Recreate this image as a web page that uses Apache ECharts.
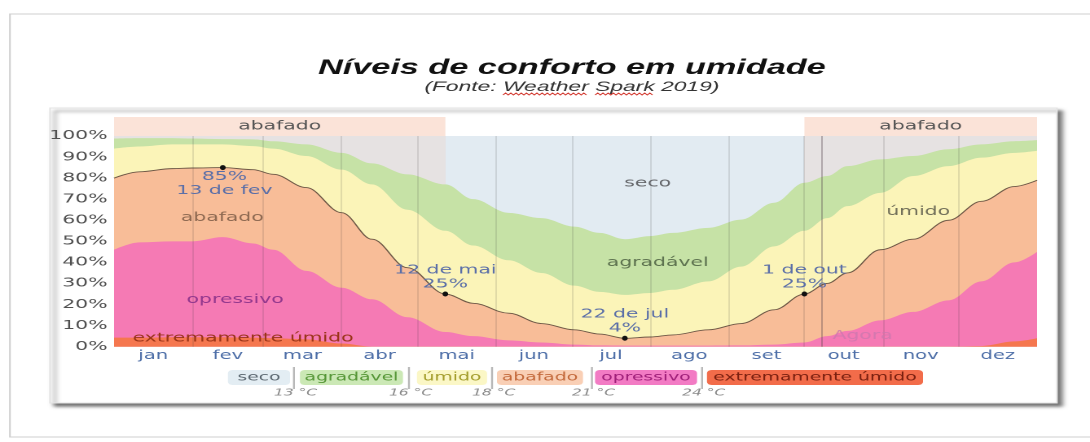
<!DOCTYPE html>
<html><head><meta charset="utf-8">
<script src="https://cdn.jsdelivr.net/npm/echarts@6/dist/echarts.min.js"></script>
<style>
html,body{margin:0;padding:0;background:#fff;overflow:hidden;width:1090px;height:442px}
#chart{width:669px;height:442px;transform:scaleX(1.62930);transform-origin:0 0;}
</style></head><body><div id="chart"></div>
<script>
// ---------- data (day of year 0..365, percent of time) ----------
const months = ['jan','fev','mar','abr','mai','jun','jul','ago','set','out','nov','dez'];
const monthStarts = [0,31,59,90,120,151,181,212,243,273,304,334,365];
const monthMids = [15.5,45,74.5,105,135.5,166,196.5,227.5,258,288.5,319,349.5];
const days = [0,10,23,31,43,55,63,76,90,102,116,131,142,156,169,182,192,202,212,221,235,248,261,273,282,290,303,316,330,343,356,365];
// cumulative upper edges of each comfort band
const agradavelTop = [98.8,99,99,98.8,98.5,98.4,97.5,96,92,87,81.8,77,70,63.5,61,57,54,51,52.5,54,56.4,60.3,68.3,77.8,81,85.7,88.9,90.5,93.7,96,97.5,98];
const umidoTop     = [94,95,96,96,96,95.2,94,90.5,84,77,65,55,48,41,35,29,26,24.6,25.5,27,31,38,47.6,55,61,66.7,73,81,85.7,89.7,92,93];
const abafadoTop   = [80,83,84.5,84.8,85,84,81.8,75.5,63.6,51,37.5,25,20.6,15.9,11,8,6,4,4.6,5.6,8,11,17.5,25,30,35,46,51,60,69,76,79];
const opressivoTop = [46,49.5,50,50,52,49,46,36,28,22.5,14,7,5,3,2,1,0.6,0.5,0.5,0.5,0.5,0.6,1,2,5,7.5,12.5,16.5,22,31,40,45];
const extremoTop   = [4.3,4.3,4.5,4.5,4.5,4.3,4,3.5,1.5,0,0,0,0,0,0,0,0,0,0,0,0,0,0,0,0,0,0,0,0,0.3,2.5,4];
const secoTop = [[0,100],[365,100]];
// muggy season (abafado > 25%): 1 de out .. 12 de mai
const muggyEndDay = 131, muggyStartDay = 273;
const nowDay = 280;
const highlights = [
  {day:43, pct:85, text:'85%\n13 de fev', offset:[1,16]},
  {day:131, pct:25, text:'12 de mai\n25%', offset:[0,-17]},
  {day:202, pct:4, text:'22 de jul\n4%', offset:[0,-17]},
  {day:273, pct:25, text:'1 de out\n25%', offset:[0,-17]}
];
const regionLabels = [
  {text:'abafado', day:42.8, pct:61.3, color:'#8f6a52'},
  {text:'opressivo', day:47.9, pct:22.2, color:'#94388e'},
  {text:'extremamente úmido', day:51, pct:4.1, color:'#9a3418'},
  {text:'seco', day:211, pct:77.5, color:'#66686c'},
  {text:'agradável', day:215, pct:39.9, color:'#5e7350'},
  {text:'úmido', day:318, pct:64.1, color:'#72705a'},
  {text:'Agora', day:296, pct:5.1, color:'rgba(205,120,175,0.8)'}
];
const legendItems = [
  {text:'seco', bg:'#e3edf3', fg:'#5b6770'},
  {text:'agradável', bg:'#cbe8b5', fg:'#559636'},
  {text:'úmido', bg:'#fbf7c6', fg:'#a39c2a'},
  {text:'abafado', bg:'#f9cfb5', fg:'#c46a3c'},
  {text:'opressivo', bg:'#f27bc4', fg:'#a0207a'},
  {text:'extremamente úmido', bg:'#f26c4a', fg:'#7a2010'}
];
const tempLabels = ['13 °C','16 °C','18 °C','21 °C','24 °C'];

// ---------- layout (chart space; page is stretched horizontally) ----------
const FONT = '"DejaVu Sans", sans-serif';
const legendBoxes = [[139.9,178],[184.1,247.3],[255.9,298.9],[305,357.8],[365.2,427.8],[433.9,566.5]];
const legendSeps = [180.4,251,302,363.3,430.9];

const pairs = arr => days.map((d,i)=>[d,arr[i]]);
function band(name, vals, color, extra){
  return Object.assign({
    type:'line', name, data:pairs(vals), smooth:0.35, smoothMonotone:'x', symbol:'none',
    lineStyle:{width:0}, areaStyle:{color, opacity:1}, silent:true
  }, extra||{});
}
const g1 = muggyEndDay/365, g2 = muggyStartDay/365;
const secoColor = new echarts.graphic.LinearGradient(0,0,1,0,[
  {offset:0,color:'#e6e2e2'},{offset:g1,color:'#e6e2e2'},
  {offset:g1,color:'#e2ebf2'},{offset:g2,color:'#e2ebf2'},
  {offset:g2,color:'#e6e2e2'},{offset:1,color:'#e6e2e2'}]);

// month grid lines inside the plot (0..100 %)
const monthLines = monthStarts.slice(1,-1).map(d=>[{coord:[d,0]},{coord:[d,100]}]);
const gridLineStyle = {color:'rgba(60,60,60,0.17)', width:0.8, type:'solid'};

// subtitle underline (spell-check squiggle)
const mctx = document.createElement('canvas').getContext('2d');
const subFont = 'italic 14px "Liberation Sans"';
mctx.font = subFont;
const subText = '(Fonte: Weather Spark 2019)';
const subX0 = 351 - mctx.measureText(subText).width/2;
function squiggle(prefix, word){
  const x = subX0 + mctx.measureText(prefix).width;
  const w = mctx.measureText(word).width;
  const pts = [];
  for (let i=0;i<=w;i+=1.6) pts.push([x+i, 94 + ((Math.round(i/1.6))%2 ? -1 : 1)]);
  return {type:'polyline', shape:{points:pts}, style:{stroke:'#d2342a', lineWidth:0.8, fill:null}, silent:true};
}

const graphics = [
  {type:'rect', shape:{x:6.1,y:14,width:700,height:423}, style:{fill:'#fff', stroke:'#cfcfcf', lineWidth:1}, silent:true},
  {type:'rect', shape:{x:30.7,y:108,width:618,height:295}, style:{fill:'#fff', stroke:'#e4e4e4', lineWidth:1, shadowColor:'rgba(0,0,0,0.55)', shadowBlur:3, shadowOffsetX:3, shadowOffsetY:3}, silent:true},
  {type:'text', x:351, y:68, style:{text:'Níveis de conforto em umidade', font:'italic bold 21px "Liberation Sans"', fill:'#111', align:'center', verticalAlign:'middle'}},
  {type:'text', x:351, y:87, style:{text:subText, font:subFont, fill:'#333', align:'center', verticalAlign:'middle'}},
  squiggle('(Fonte: ','Weather'),
  squiggle('(Fonte: Weather ','Spark')
];
legendItems.forEach((it,i)=>{
  const [a,b] = legendBoxes[i];
  graphics.push({type:'rect', shape:{x:a,y:370,width:b-a,height:15,r:3}, style:{fill:it.bg}, silent:true});
  graphics.push({type:'text', x:(a+b)/2, y:377.5, style:{text:it.text, font:'11.5px '+FONT, fill:it.fg, align:'center', verticalAlign:'middle'}, silent:true});
});
legendSeps.forEach((x,i)=>{
  graphics.push({type:'line', shape:{x1:x,y1:367,x2:x,y2:389}, style:{stroke:'#b8b8b8', lineWidth:1.2}, silent:true});
  graphics.push({type:'text', x:x+1, y:393, style:{text:tempLabels[i], font:'italic 9.5px '+FONT, fill:'#8a8a8a', align:'center', verticalAlign:'middle'}, silent:true});
});

const chart = echarts.init(document.getElementById('chart'), null, {renderer:'canvas', devicePixelRatio:2});
chart.setOption({
  animation:false,
  backgroundColor:'#ffffff',
  grid:{left:70, right:32.5, top:117, bottom:95.3},
  graphic:graphics,
  xAxis:{
    type:'value', min:0, max:365, z:3,
    axisLine:{show:false},
    axisTick:{show:false},
    axisLabel:{customValues:monthMids, formatter:v=>months[monthMids.indexOf(v)], color:'#4e6fa8', fontSize:12, fontFamily:FONT, margin:3},
    splitLine:{show:false}
  },
  yAxis:{
    type:'value', min:0, max:109, interval:10, z:3,
    axisLine:{show:false}, axisTick:{show:false},
    axisLabel:{formatter:v=> v<=100 ? v+'%' : '', color:'#505050', fontSize:12.5, fontFamily:FONT, margin:4},
    splitLine:{show:true, showMaxLine:false, lineStyle:{color:'rgba(60,60,60,0.08)', width:1}}
  },
  series:[
    {type:'line', name:'seco', data:secoTop, symbol:'none', lineStyle:{width:0}, areaStyle:{color:secoColor, opacity:1}, silent:true},
    band('agradável', agradavelTop, '#c6e2a6'),
    band('úmido', umidoTop, '#fbf4b8'),
    band('abafado', abafadoTop, '#f8bd98', {lineStyle:{width:0.9, color:'#6e5846'}}),
    band('opressivo', opressivoTop, '#f57ab4'),
    band('extremamente úmido', extremoTop, '#f5774f', {
      markLine:{silent:true, symbol:'none', label:{show:false},
        lineStyle:gridLineStyle,
        data:[...monthLines,
          [{coord:[nowDay,0], lineStyle:{color:'rgba(90,70,80,0.38)', width:1}},{coord:[nowDay,100]}]]}
    }),
    {type:'line', name:'faixa', data:secoTop, symbol:'none', lineStyle:{opacity:0}, silent:true, z:10,
      markArea:{silent:true,
        itemStyle:{color:'#fbe3d8'},
        label:{show:true, position:'inside', color:'#555', fontSize:12.5, fontFamily:FONT},
        data:[
          [{xAxis:0, yAxis:100, name:'abafado'},{xAxis:muggyEndDay, yAxis:109}],
          [{xAxis:muggyStartDay, yAxis:100, name:'abafado'},{xAxis:365, yAxis:109}]
        ]},
      markPoint:{silent:true, data:[
        ...regionLabels.map(r=>({coord:[r.day,r.pct], symbol:'circle', symbolSize:0,
          label:{show:true, position:'inside', formatter:r.text, color:r.color, fontSize:12.5, fontFamily:FONT}})),
        ...highlights.map(h=>({coord:[h.day,h.pct], symbol:'circle', symbolSize:[3.5,5],
          itemStyle:{color:'#111'},
          label:{show:true, position:'inside', formatter:h.text, color:'#5b6fa8', fontSize:12.5, lineHeight:14, fontFamily:FONT, align:'center', offset:h.offset}}))
      ]}
    }
  ]
});
</script></body></html>
